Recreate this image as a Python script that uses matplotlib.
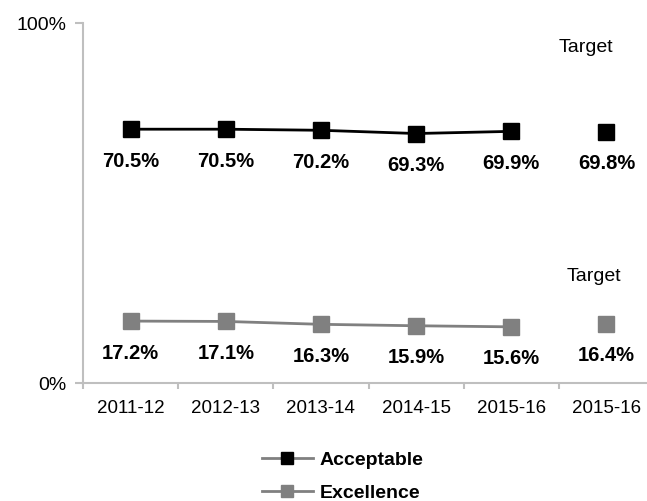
import matplotlib
matplotlib.use("Agg")
import matplotlib.pyplot as plt
from matplotlib.lines import Line2D

plt.rcParams['font.family'] = ['Liberation Sans', 'DejaVu Sans']

categories = ["2011-12", "2012-13", "2013-14", "2014-15", "2015-16", "2015-16"]
acceptable = [70.5, 70.5, 70.2, 69.3, 69.9]
excellence = [17.2, 17.1, 16.3, 15.9, 15.6]
acceptable_target = 69.8
excellence_target = 16.4
series_names = ["Acceptable", "Excellence"]

W, H = 647, 501
fig = plt.figure(figsize=(W / 100, H / 100), dpi=100)
ax = fig.add_axes([83 / W, 1 - 383 / H, (654 - 83) / W, 360 / H])

axis_grey = "#bfbfbf"
black = "#000000"
grey = "#808080"

n = len(acceptable)
xs = list(range(n))
t = n  # position of the target column

ax.plot(xs, acceptable, color=black, lw=2, marker="s", ms=11, mfc=black, mec=black, zorder=3)
ax.plot(xs, excellence, color=grey, lw=2, marker="s", ms=11, mfc=grey, mec=grey, zorder=3)
ax.plot([t], [acceptable_target], ls="none", marker="s", ms=11, mfc=black, mec=black, zorder=3)
ax.plot([t], [excellence_target], ls="none", marker="s", ms=11, mfc=grey, mec=grey, zorder=3)

label_kw = dict(ha="center", va="center", fontsize=14.5, fontweight="bold", color="black",
                textcoords="offset points")
for x, v in zip(xs + [t], acceptable + [acceptable_target]):
    ax.annotate(f"{v:.1f}%", (x, v), xytext=(0, -23), **label_kw)
for x, v in zip(xs + [t], excellence + [excellence_target]):
    ax.annotate(f"{v:.1f}%", (x, v), xytext=(0, -23), **label_kw)

ax.text(t - 0.22, 93.3, "Target", ha="center", va="center", fontsize=14)
ax.text(t - 0.13, 29.7, "Target", ha="center", va="center", fontsize=14)

ax.set_xlim(-0.5, len(categories) - 0.5)
ax.set_ylim(0, 100)
ax.set_yticks([0, 100])
ax.set_yticklabels(["0%", "100%"], fontsize=14)
ax.set_xticks(range(len(categories)))
ax.set_xticklabels(categories, fontsize=13.5)
ax.set_xticks([i - 0.5 for i in range(len(categories) + 1)], minor=True)
ax.tick_params(axis="x", which="major", length=0, pad=12)
ax.tick_params(axis="x", which="minor", length=4, width=1.5, color=axis_grey)
ax.tick_params(axis="y", length=6, width=1.5, color=axis_grey, pad=6)

for side in ("top", "right"):
    ax.spines[side].set_visible(False)
for side in ("left", "bottom"):
    ax.spines[side].set_color(axis_grey)
    ax.spines[side].set_linewidth(1.5)

handles = [
    Line2D([], [], color=grey, lw=2, marker="s", ms=9, mfc=black, mec=black),
    Line2D([], [], color=grey, lw=2, marker="s", ms=9, mfc=grey, mec=grey),
]
leg = fig.legend(handles, series_names, loc="upper left",
                 bbox_to_anchor=(262 / W, 1 - 451 / H), frameon=False,
                 prop={"size": 14, "weight": "bold"}, borderpad=0, borderaxespad=0,
                 handlelength=2.6, handletextpad=0.35, labelspacing=0.8)

fig.savefig("out.png", dpi=100)
